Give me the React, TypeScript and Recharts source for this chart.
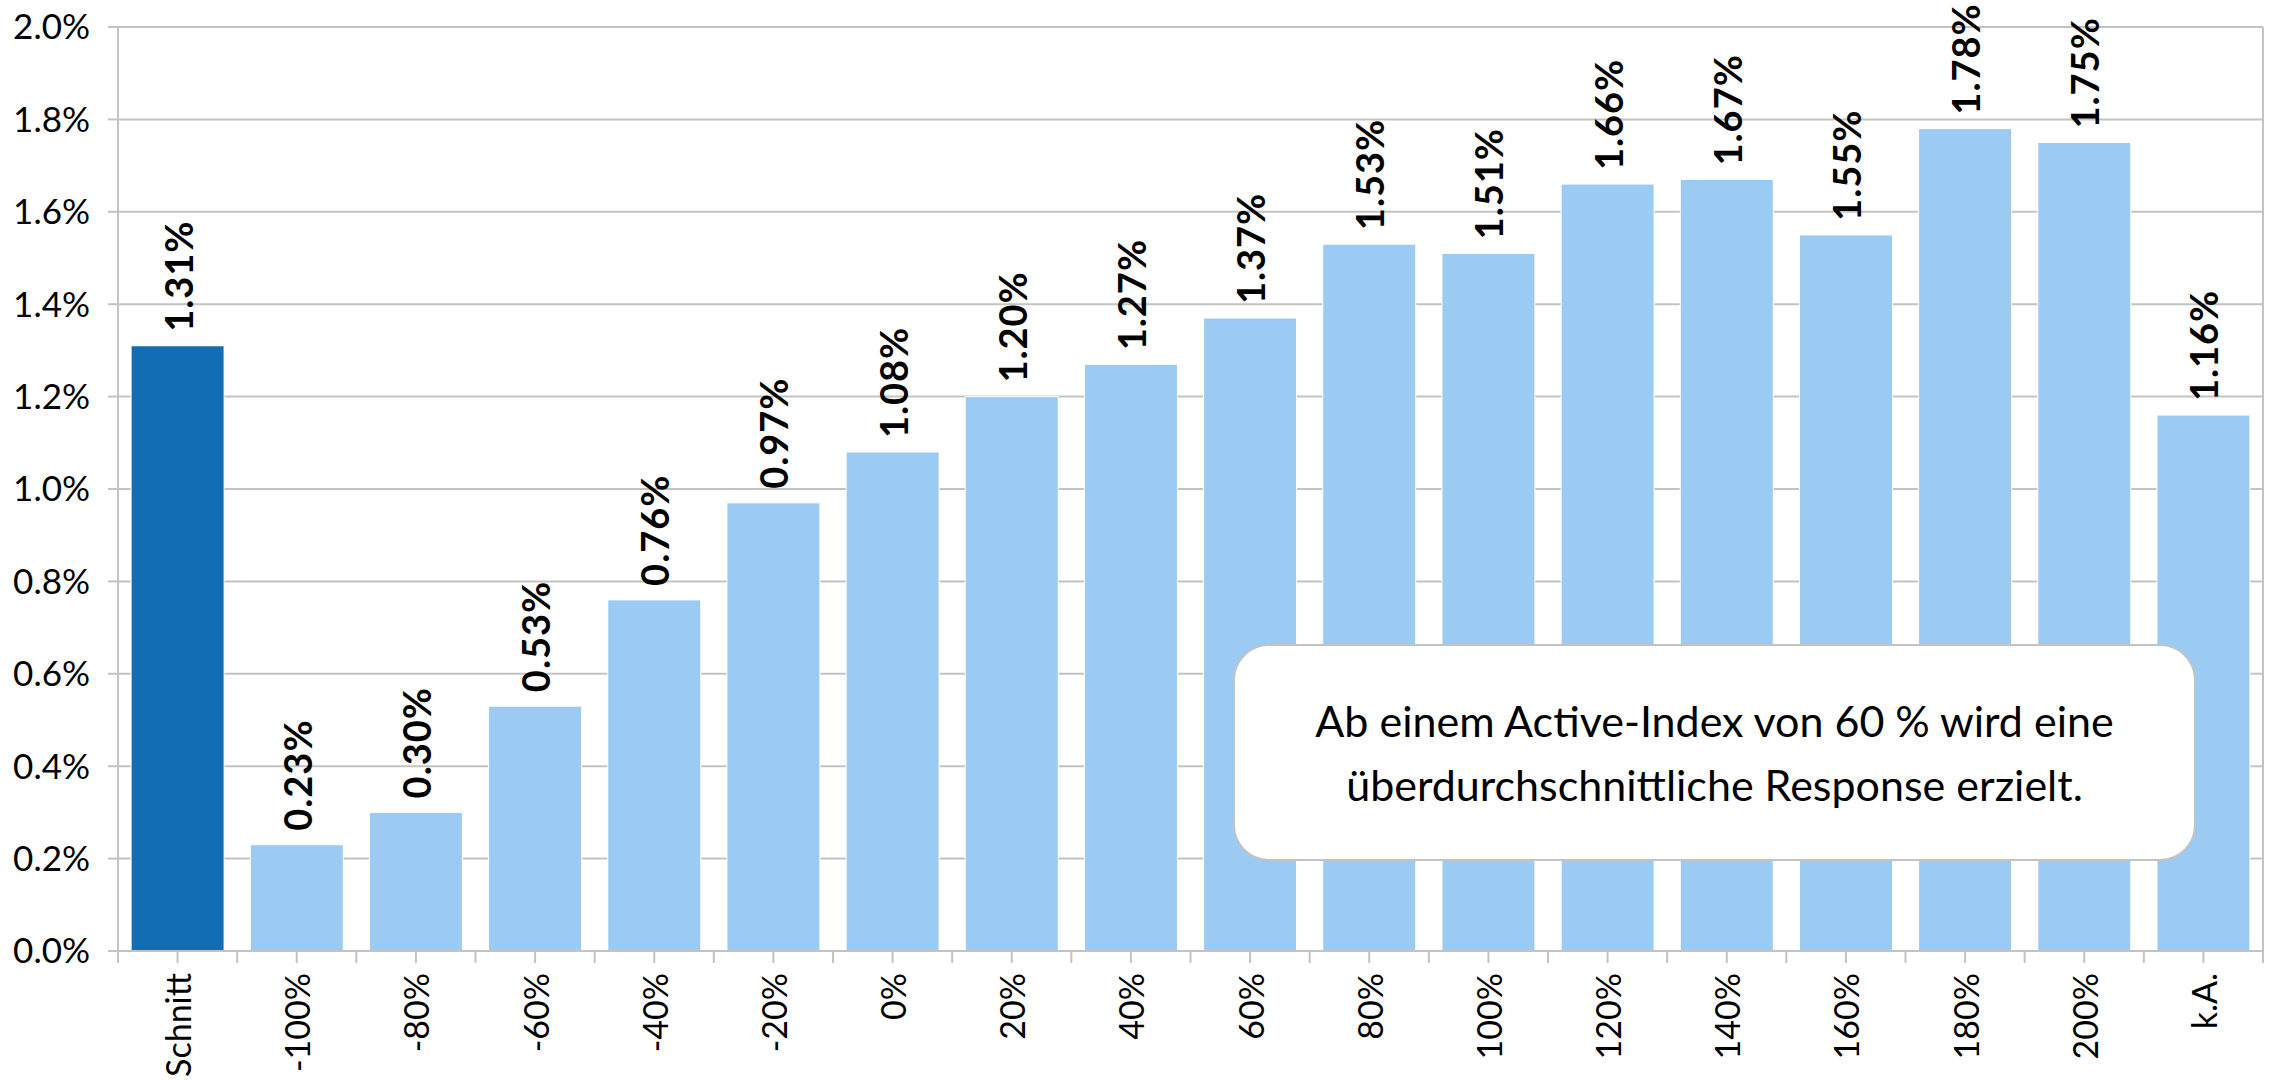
import { Bar, BarChart, CartesianGrid, Cell, LabelList, XAxis, YAxis } from "recharts";

const CATEGORIES = [
	"Schnitt",
	"-100%",
	"-80%",
	"-60%",
	"-40%",
	"-20%",
	"0%",
	"20%",
	"40%",
	"60%",
	"80%",
	"100%",
	"120%",
	"140%",
	"160%",
	"180%",
	"200%",
	"k.A.",
];

const RESPONSE = [
	1.31, 0.23, 0.3, 0.53, 0.76, 0.97, 1.08, 1.2, 1.27, 1.37, 1.53, 1.51, 1.66,
	1.67, 1.55, 1.78, 1.75, 1.16,
];

const Y_TICKS = [0, 0.2, 0.4, 0.6, 0.8, 1.0, 1.2, 1.4, 1.6, 1.8, 2.0];

const NOTE_LINES = [
	"Ab einem Active-Index von 60 % wird eine",
	"überdurchschnittliche Response erzielt.",
];

const WIDTH = 2270;
const HEIGHT = 1080;
const PLOT_LEFT = 118;
const RIGHT_AXIS = 7;
const X_TICK = 12;
const X_MARGIN = 10;
const FONT = "Lato, 'Open Sans', sans-serif";
const GRID = "#c3c3c3";
const DARK = "#136db5";
const LIGHT = "#9bcaf3";

const data = CATEGORIES.map((name, i) => ({ name, value: RESPONSE[i] }));
const band = (WIDTH - PLOT_LEFT - RIGHT_AXIS) / CATEGORIES.length;

function XTick(props: any) {
	const { x, y, payload } = props;
	const axisY = y - X_MARGIN - X_TICK;
	return (
		<g>
			<line
				x1={x - band / 2}
				x2={x - band / 2}
				y1={axisY}
				y2={axisY + X_TICK}
				stroke={GRID}
				strokeWidth={2}
			/>
			{payload.index === CATEGORIES.length - 1 && (
				<line
					x1={x + band / 2}
					x2={x + band / 2}
					y1={axisY}
					y2={axisY + X_TICK}
					stroke={GRID}
					strokeWidth={2}
				/>
			)}
			<text
				x={x}
				y={y}
				transform={`rotate(-90, ${x}, ${y})`}
				textAnchor="end"
				dominantBaseline="central"
				fontSize={34}
				fontFamily={FONT}
				fill="#000"
			>
				{payload.value}
			</text>
		</g>
	);
}

function ValueLabel(props: any) {
	const { x, y, width, value } = props;
	const cx = x + width / 2;
	const ty = y - 14;
	return (
		<text
			x={cx}
			y={ty}
			transform={`rotate(-90, ${cx}, ${ty})`}
			textAnchor="start"
			dominantBaseline="central"
			fontSize={38}
			fontWeight="bold"
			letterSpacing={1}
			fontFamily={FONT}
			fill="#000"
		>
			{`${Number(value).toFixed(2)}%`}
		</text>
	);
}

export default function App() {
	return (
		<div
			style={{
				position: "absolute",
				left: 0,
				top: 0,
				width: WIDTH,
				height: HEIGHT,
				background: "#fff",
				fontFamily: FONT,
			}}
		>
			<BarChart
				width={WIDTH}
				height={HEIGHT}
				data={data}
				margin={{ top: 27, right: 0, left: 0, bottom: 0 }}
				barCategoryGap="11%"
			>
				<CartesianGrid
					vertical={false}
					stroke={GRID}
					strokeWidth={2}
					yAxisId="left"
				/>
				<XAxis
					dataKey="name"
					interval={0}
					height={129}
					tickSize={X_TICK}
					tickMargin={X_MARGIN}
					axisLine={{ stroke: GRID, strokeWidth: 2 }}
					tickLine={{ stroke: GRID, strokeWidth: 2 }}
					tick={<XTick />}
				/>
				<YAxis
					yAxisId="left"
					width={PLOT_LEFT}
					domain={[0, 2]}
					ticks={Y_TICKS}
					interval={0}
					tickSize={10}
					tickMargin={18}
					axisLine={{ stroke: GRID, strokeWidth: 2 }}
					tickLine={{ stroke: GRID, strokeWidth: 2 }}
					tick={{ fontSize: 35, fontFamily: FONT, fill: "#000" }}
					tickFormatter={(v: number) => `${v.toFixed(1)}%`}
				/>
				<YAxis
					yAxisId="right"
					orientation="right"
					width={RIGHT_AXIS}
					domain={[0, 2]}
					tick={false}
					tickLine={false}
					axisLine={{ stroke: GRID, strokeWidth: 2 }}
				/>
				<Bar
					yAxisId="left"
					dataKey="value"
					isAnimationActive={false}
					stroke="#ffffff"
					strokeWidth={1}
				>
					{data.map((d, i) => (
						<Cell key={d.name} fill={i === 0 ? DARK : LIGHT} />
					))}
					<LabelList dataKey="value" content={<ValueLabel />} />
				</Bar>
			</BarChart>
			<div
				style={{
					position: "absolute",
					left: 1233,
					top: 644,
					width: 963,
					height: 217,
					boxSizing: "border-box",
					border: `2px solid ${GRID}`,
					borderRadius: 36,
					background: "#fff",
					display: "flex",
					flexDirection: "column",
					justifyContent: "center",
					alignItems: "center",
					fontSize: 43,
					lineHeight: "64px",
					color: "#000",
				}}
			>
				{NOTE_LINES.map((line) => (
					<div key={line}>{line}</div>
				))}
			</div>
		</div>
	);
}
